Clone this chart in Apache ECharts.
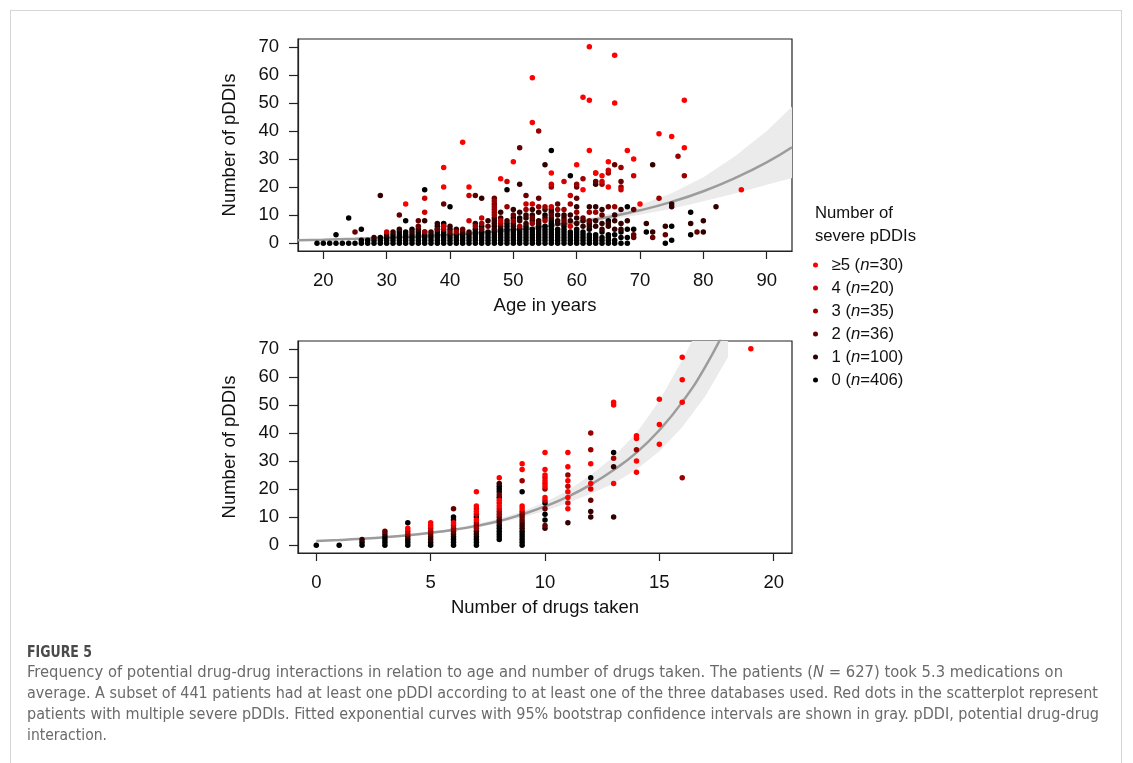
<!DOCTYPE html>
<html><head><meta charset="utf-8">
<script src="https://cdn.jsdelivr.net/npm/echarts@6/dist/echarts.min.js"></script>
<style>
html,body{margin:0;padding:0;background:#fff;overflow:hidden;}
#frame{position:absolute;left:10px;top:10px;width:1112px;height:800px;border:1px solid #d6d6d6;border-bottom:none;box-sizing:border-box;}
#chart{position:absolute;left:0;top:0;width:1133px;height:763px;}
#cap{position:absolute;left:27px;top:0;width:1100px;height:763px;font-family:"Liberation Sans Narrow","DejaVu Sans Condensed","Liberation Sans",sans-serif;color:#6a6a6a;font-size:15px;pointer-events:none;}
.ln{position:absolute;left:0;white-space:nowrap;transform-origin:0 50%;line-height:20px;height:20px;}
.fig{color:#4a4a4a;font-weight:bold;}
</style></head>
<body>
<div id="frame"></div>
<div id="chart"></div>
<div id="cap">
<div class="ln fig" style="top:642px" data-w="65">FIGURE 5</div>
<div class="ln" style="top:662px" data-w="1036">Frequency of potential drug-drug interactions in relation to age and number of drugs taken. The patients (<i>N</i> = 627) took 5.3 medications on</div>
<div class="ln" style="top:683px" data-w="1071">average. A subset of 441 patients had at least one pDDI according to at least one of the three databases used. Red dots in the scatterplot represent</div>
<div class="ln" style="top:704px" data-w="1072">patients with multiple severe pDDIs. Fitted exponential curves with 95% bootstrap confidence intervals are shown in gray. pDDI, potential drug-drug</div>
<div class="ln" style="top:725px" data-w="80">interaction.</div>
</div>
<script>
// ---------- data ----------
const severityNames = ['0','1','2','3','4','\u22655'];
const severityCounts = [406,100,36,35,20,30];
const severityColors = ['#000000','#330000','#660000','#990000','#cc0000','#ff0000'];

const ageTicks = [20,30,40,50,60,70,80,90];
const drugTicks = [0,5,10,15,20];
const pddiTicks = [0,10,20,30,40,50,60,70];

// Panel A: age vs number of pDDIs, one array per severity class
const ageSev0 = [[19,0],[20,0],[21,0],[22,0],[22,3],[23,0],[24,0],[24,9],[25,0],[26,0],[26,1],[26,5],[27,0],[27,1],[28,0],[28,1],[29,0],[29,1],[29,2],[30,0],[30,1],[30,2],[31,0],[31,1],[31,2],[31,3],[32,0],[32,1],[32,2],[32,3],[32,4],[33,0],[33,1],[33,2],[33,3],[33,4],[33,8],[34,0],[34,1],[34,2],[34,3],[34,5],[35,0],[35,1],[35,2],[35,3],[35,4],[36,0],[36,1],[36,2],[36,3],[36,4],[36,19],[37,0],[37,1],[37,2],[37,3],[38,0],[38,1],[38,2],[38,3],[38,4],[38,6],[39,0],[39,1],[39,2],[39,3],[39,4],[39,7],[40,0],[40,1],[40,2],[40,3],[40,5],[40,13],[41,0],[41,1],[41,2],[41,3],[42,0],[42,1],[42,2],[42,3],[43,0],[43,1],[43,2],[43,3],[44,0],[44,1],[44,2],[44,3],[44,4],[44,5],[45,0],[45,1],[45,2],[45,3],[45,4],[45,6],[46,0],[46,1],[46,2],[46,3],[46,4],[47,0],[47,1],[47,2],[47,3],[47,4],[47,6],[48,0],[48,1],[48,2],[48,3],[48,4],[48,5],[49,0],[49,1],[49,2],[49,3],[49,4],[49,5],[49,6],[49,7],[49,19],[50,0],[50,1],[50,2],[50,3],[50,4],[50,5],[50,9],[51,0],[51,1],[51,2],[51,3],[51,4],[51,5],[51,9],[52,0],[52,1],[52,2],[52,3],[52,4],[52,5],[52,6],[53,0],[53,1],[53,2],[53,3],[53,4],[53,5],[54,0],[54,1],[54,2],[54,3],[54,4],[54,5],[54,6],[55,0],[55,1],[55,2],[55,3],[55,4],[55,5],[55,6],[55,10],[56,0],[56,1],[56,2],[56,3],[56,4],[56,5],[56,6],[56,7],[56,8],[56,33],[57,0],[57,1],[57,2],[57,3],[57,4],[57,5],[58,0],[58,1],[58,2],[58,3],[58,4],[58,5],[58,6],[59,0],[59,1],[59,2],[59,3],[59,4],[59,24],[60,0],[60,1],[60,2],[60,3],[60,4],[60,5],[61,0],[61,1],[61,2],[61,3],[61,4],[62,0],[62,1],[62,2],[62,3],[62,5],[63,0],[63,1],[63,2],[63,3],[64,0],[64,1],[64,2],[64,4],[65,0],[65,1],[65,2],[65,3],[65,8],[66,0],[66,1],[66,3],[67,0],[67,2],[67,4],[68,0],[68,2],[68,5],[68,13],[69,5],[71,4],[74,0],[75,1],[75,6],[78,3],[78,11]];
const ageSev1 = [[29,17],[45,16],[36,8],[38,7],[38,5],[51,21],[55,28],[72,28],[63,21],[75,14],[75,13],[82,13],[78,7],[80,8],[80,4],[71,7],[72,4],[74,6],[47,9],[47,8],[47,7],[47,5],[48,6],[50,6],[52,9],[53,10],[54,8],[55,12],[56,11],[57,8],[58,9],[59,10],[60,7],[61,8],[62,7],[63,6],[64,7],[65,6],[66,5],[67,7],[68,8],[41,5],[42,4],[43,4],[44,7],[46,8],[49,8],[50,7],[51,8],[52,7],[53,8],[54,7],[55,9],[56,9],[57,7],[58,7],[60,9],[61,6],[62,6],[63,8],[64,5],[65,7],[66,8],[67,5],[34,4],[35,5],[37,4],[39,6],[40,6],[32,5],[31,4],[30,3],[28,2],[48,11],[50,12],[51,11],[53,12],[54,11],[56,12],[58,10],[60,13],[62,13],[63,13],[59,8],[57,10],[64,12],[66,10],[67,12],[52,10],[48,9]];
const ageSev2 = [[51,34],[63,22],[63,25],[66,28],[67,22],[60,20],[69,12],[25,4],[32,10],[35,8],[35,6],[39,14],[44,17],[47,16],[47,14],[52,17],[54,16],[57,14],[79,4],[72,2],[69,3],[69,2],[38,5],[42,5],[46,6],[53,9],[56,10],[58,8],[61,9],[64,10],[65,13],[50,10],[40,4],[45,5],[62,8],[74,3],[60,16]];
const ageSev3 = [[54,40],[76,31],[77,24],[73,16],[61,23],[60,21],[67,27],[65,25],[67,20],[49,13],[54,13],[56,20],[47,12],[47,13],[47,11],[47,10],[47,15],[55,13],[57,12],[58,12],[60,11],[62,11],[63,11],[66,13],[50,8],[52,12],[53,7],[45,7],[36,4],[39,5],[41,4],[44,6],[48,7],[51,6],[55,8],[59,14],[64,21]];
const ageSev4 = [[43,17],[36,16],[49,22],[58,22],[64,22],[65,26],[69,24],[36,11],[45,9],[48,8],[43,8],[56,21],[67,19],[52,14],[53,14],[56,13],[59,17],[30,4],[59,6],[39,6]];
const ageSev5 = [[62,70],[66,67],[53,59],[61,52],[62,51],[66,50],[77,51],[53,43],[73,39],[75,38],[77,34],[62,33],[68,33],[42,36],[39,27],[50,29],[60,28],[65,29],[69,30],[56,25],[64,24],[39,20],[43,20],[48,23],[86,19],[70,14],[33,14],[61,19],[63,25],[65,20]];

// Panel B: number of drugs vs number of pDDIs
const drugSev0 = [[0,0],[1,0],[2,0],[2,1],[3,0],[3,1],[3,2],[3,3],[4,0],[4,1],[4,2],[4,8],[5,0],[5,1],[6,0],[6,1],[6,2],[6,3],[6,9],[6,10],[7,0],[7,1],[7,2],[7,3],[7,10],[8,2],[8,3],[8,4],[8,5],[8,6],[8,7],[8,17],[8,19],[8,20],[8,21],[9,0],[9,1],[9,2],[9,3],[9,4],[9,5],[9,19],[10,9],[10,11],[10,15],[12,24],[13,33]];
const drugSev1 = [[2,2],[3,4],[4,3],[5,2],[5,3],[6,4],[7,4],[7,5],[8,8],[8,9],[8,22],[9,6],[9,7],[9,8],[10,6],[11,8],[12,10],[12,12],[13,10],[13,28]];
const drugSev2 = [[3,5],[5,4],[6,5],[6,13],[7,7],[8,10],[8,18],[9,9],[9,10],[9,11],[10,7],[10,13],[12,16]];
const drugSev3 = [[4,4],[5,5],[6,6],[7,6],[7,8],[8,11],[8,12],[9,12],[9,23],[10,20],[11,25],[12,34],[12,40],[13,31],[14,34],[16,24]];
const drugSev4 = [[4,5],[5,6],[6,7],[7,11],[7,13],[8,13],[8,15],[10,16],[10,22],[10,24],[11,15],[11,21],[12,20]];
const drugSev5 = [[4,6],[5,7],[5,8],[6,8],[7,9],[7,12],[7,14],[7,19],[8,14],[8,16],[8,24],[9,13],[9,14],[9,27],[9,29],[10,17],[10,21],[10,23],[10,25],[10,27],[10,33],[11,13],[11,17],[11,19],[11,23],[11,28],[11,33],[12,22],[12,29],[13,22],[13,50],[13,51],[14,26],[14,30],[14,38],[14,39],[15,36],[15,43],[15,52],[16,51],[16,59],[16,67],[19,70]];

// fitted curves and 95% bands
const ageFitX = [16,20,25,30,35,40,45,50,55,60,65,70,75,80,85,90,94];
const ageFit  = [1.05,1.25,1.55,1.95,2.4,3.0,3.8,4.75,5.95,7.45,9.3,11.7,14.7,18.5,23.2,28.8,34.2];
const ageUp   = [1.35,1.55,1.85,2.25,2.75,3.35,4.15,5.15,6.45,8.2,10.5,13.6,17.8,23.5,31,40,48.6];
const ageLo   = [0.8,0.98,1.28,1.68,2.1,2.7,3.45,4.4,5.5,6.8,8.3,10.1,12.3,14.9,17.7,20.8,23.2];

const drugFitX = [0,1,2,3,4,5,6,7,8,9,10,11,12,13,14,15,16,17,18];
const drugFit  = [1.45,1.81,2.26,2.82,3.53,4.41,5.5,6.88,8.6,11.0,13.8,17.3,21.6,26.8,33.0,41.0,51,63.5,79];
const drugUp   = [1.65,2.0,2.5,3.1,3.9,4.8,6.0,7.5,9.4,12.0,15.3,19.5,25,31.5,40,51.5,66,82,100];
const drugLo   = [1.25,1.6,2.05,2.55,3.2,4.0,5.0,6.3,7.9,9.9,12.2,15.0,18.3,22,27,33.5,42,53,67];

// ---------- chart ----------
const FONT = '"Liberation Sans", Arial, sans-serif';
const chart = echarts.init(document.getElementById('chart'), null, {renderer:'canvas'});

function pairs(xs, ys){ return xs.map((x,i)=>[x, ys[i]]); }

function band(xs, up, lo, gi){
  return {
    type:'custom', xAxisIndex:gi, yAxisIndex:gi, clip:true, silent:true, z:1,
    data:[[xs[0], lo[0]]],
    renderItem:(params, api)=>{
      const pts = [];
      for (let i=0;i<xs.length;i++) pts.push(api.coord([xs[i], up[i]]));
      for (let i=xs.length-1;i>=0;i--) pts.push(api.coord([xs[i], lo[i]]));
      return {type:'polygon', shape:{points:pts}, style:{fill:'#ebebeb'}};
    }
  };
}
function fit(xs, ys, gi){
  return {type:'line', xAxisIndex:gi, yAxisIndex:gi, data:pairs(xs, ys), smooth:true, symbol:'none',
    clip:true, silent:true, z:2, lineStyle:{color:'#9c9c9c', width:2.5}};
}
function scat(name, data, color, gi){
  return {type:'scatter', name, xAxisIndex:gi, yAxisIndex:gi, data, symbol:'circle', symbolSize:5.5,
    itemStyle:{color, opacity:1}, z:3, silent:true};
}

const ageSets = [ageSev0, ageSev1, ageSev2, ageSev3, ageSev4, ageSev5];
const drugSets = [drugSev0, drugSev1, drugSev2, drugSev3, drugSev4, drugSev5];

const lineCol = '#222';
function xAx(gi, min, max, ticks, name){
  return {type:'value', gridIndex:gi, min, max, name, nameLocation:'middle', nameGap:45,
    nameTextStyle:{fontSize:18.5, color:'#111', fontFamily:FONT},
    axisLine:{show:true, onZero:false, lineStyle:{color:lineCol, width:1.2}}, splitLine:{show:false},
    axisTick:{show:true, inside:false, length:8, customValues:ticks, lineStyle:{color:lineCol, width:1.2}},
    axisLabel:{customValues:ticks, margin:20, fontSize:18.5, color:'#111', fontFamily:FONT}};
}
function yAx(gi){
  return {type:'value', gridIndex:gi, min:-2.8, max:72.8, name:'Number of pDDIs', nameLocation:'middle', nameGap:59,
    nameTextStyle:{fontSize:18.5, color:'#111', fontFamily:FONT},
    axisLine:{show:true, onZero:false, lineStyle:{color:lineCol, width:1.2}}, splitLine:{show:false},
    axisTick:{show:true, inside:false, length:9, customValues:pddiTicks, lineStyle:{color:lineCol, width:1.2}},
    axisLabel:{customValues:pddiTicks, margin:19, fontSize:18.5, color:'#111', fontFamily:FONT}};
}

const series = [
  band(ageFitX, ageUp, ageLo, 0),
  band(drugFitX, drugUp, drugLo, 1),
  fit(ageFitX, ageFit, 0),
  fit(drugFitX, drugFit, 1)
];
for (let s=0;s<6;s++){
  series.push(scat(severityNames[s], ageSets[s], severityColors[s], 0));
  series.push(scat(severityNames[s], drugSets[s], severityColors[s], 1));
}

const legendOrder = severityNames.slice().reverse();

chart.setOption({
  animation:false,
  backgroundColor:'transparent',
  grid:[
    {left:298, top:39, width:494, height:212, show:true, borderColor:lineCol, borderWidth:1.2, containLabel:false},
    {left:298, top:341, width:494, height:212, show:true, borderColor:lineCol, borderWidth:1.2, containLabel:false}
  ],
  xAxis:[ xAx(0, 16, 94, ageTicks, 'Age in years'), xAx(1, -0.8, 20.8, drugTicks, 'Number of drugs taken') ],
  yAxis:[ yAx(0), yAx(1) ],
  legend:{
    orient:'vertical', left:808, top:251, icon:'circle', itemWidth:22, itemHeight:5, itemGap:5,
    selectedMode:false, data:legendOrder,
    formatter:(name)=>{
      const i = severityNames.indexOf(name);
      return '{t|' + name + ' (}{i|n}{t|=' + severityCounts[i] + ')}';
    },
    textStyle:{fontSize:16.7, color:'#111', fontFamily:FONT,
      rich:{t:{fontSize:16.7, lineHeight:18, height:18, color:'#111', fontFamily:FONT},
            i:{fontSize:16.7, lineHeight:18, height:18, color:'#111', fontStyle:'italic', fontFamily:FONT}}}
  },
  graphic:[
    {type:'text', left:815, top:202, silent:true,
     style:{text:'Number of\nsevere pDDIs', font:'16.7px "Liberation Sans", Arial, sans-serif', lineHeight:23, fill:'#111'}}
  ],
  series
});

// fit caption lines to the widths they have in the figure
document.querySelectorAll('.ln').forEach(el=>{
  const w = el.getBoundingClientRect().width;
  const t = +el.dataset.w;
  if (w > 0) el.style.transform = 'scaleX(' + (t / w) + ')';
});
</script>
</body></html>
